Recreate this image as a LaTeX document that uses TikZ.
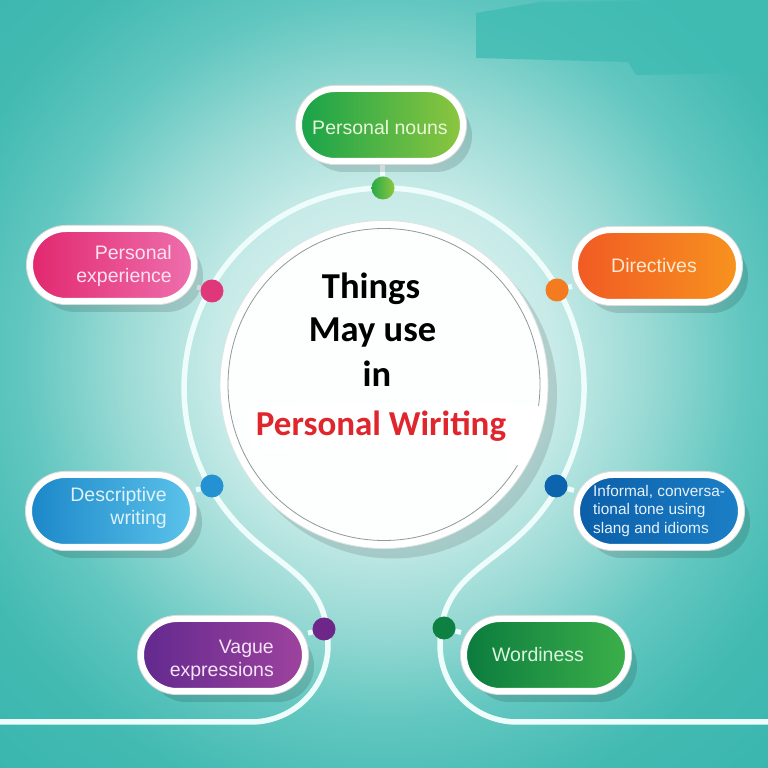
\documentclass[tikz,border=0pt]{standalone}
\usepackage{fontspec}
\setmainfont{Liberation Sans}
\newfontfamily\hubfont{Carlito}
\usetikzlibrary{shadows}
\pgfdeclarelayer{bg}
\pgfsetlayers{bg,main}

\definecolor{bgA}{HTML}{E4F6F5}
\definecolor{bgB}{HTML}{C8EBE8}
\definecolor{bgC}{HTML}{9ADAD5}
\definecolor{bgD}{HTML}{62C7C0}
\definecolor{bgE}{HTML}{42BAB2}
\definecolor{bgF}{HTML}{36B4AC}
\definecolor{smudge}{HTML}{40BCB3}
\definecolor{trackc}{HTML}{EEFCFC}
\definecolor{hubin}{HTML}{FDFEFE}
\definecolor{hubedge}{HTML}{DCE4E4}
\definecolor{hubline}{HTML}{8E9A9A}
\definecolor{redtxt}{HTML}{E0262D}

\definecolor{pnL}{HTML}{17A34A}\definecolor{pnR}{HTML}{8DC63F}\definecolor{pnT}{HTML}{E9F7D9}\definecolor{pnD}{HTML}{2AAA48}
\definecolor{peL}{HTML}{E2286E}\definecolor{peR}{HTML}{EE6FAE}\definecolor{peT}{HTML}{FDE3EF}\definecolor{peD}{HTML}{E0367A}
\definecolor{drL}{HTML}{F15A24}\definecolor{drR}{HTML}{F7931E}\definecolor{drT}{HTML}{FFE9CF}\definecolor{drD}{HTML}{F47B20}
\definecolor{dwL}{HTML}{1B87C9}\definecolor{dwR}{HTML}{5CC3EA}\definecolor{dwT}{HTML}{DEF2FB}\definecolor{dwD}{HTML}{2491D2}
\definecolor{inL}{HTML}{0B5EA8}\definecolor{inR}{HTML}{1C80C7}\definecolor{inT}{HTML}{E6F1FB}\definecolor{inD}{HTML}{0C64AE}
\definecolor{veL}{HTML}{62298F}\definecolor{veR}{HTML}{9E439E}\definecolor{veT}{HTML}{F5E3F7}\definecolor{veD}{HTML}{6E2689}
\definecolor{wdL}{HTML}{0B7B3E}\definecolor{wdR}{HTML}{3CB04A}\definecolor{wdT}{HTML}{DCF5DF}\definecolor{wdD}{HTML}{0D8042}

\pgfdeclareradialshading{bgshade}{\pgfpoint{0bp}{0bp}}{color(0bp)=(bgA); color(7bp)=(bgB); color(11bp)=(bgC); color(15bp)=(bgD); color(19bp)=(bgE); color(26bp)=(bgF); color(50bp)=(bgF)}

\tikzset{
  pill/.style={rectangle, rounded corners=36pt, minimum width=164pt, minimum height=72pt,
    inner sep=0pt, draw=white, line width=6pt,
    drop shadow={shadow xshift=9pt, shadow yshift=-11pt, opacity=0.13, fill=black},
    preaction={draw=black!14, line width=8pt}},
  lbl/.style={inner sep=0pt, font=\fontsize{19.5}{23}\selectfont},
  small/.style={inner sep=0pt, font=\fontsize{15.4}{18}\selectfont},
  hubt/.style={inner sep=0pt, font=\hubfont\bfseries\fontsize{36.5}{40}\selectfont, text=black},
  dot/.style={circle, minimum size=23pt, inner sep=0pt},
  track/.style={draw=trackc, line width=5.5pt},
  stub/.style={draw=trackc, line width=5pt},
  hubc/.style={circle, minimum size=328pt, inner sep=0pt, fill=white, draw=hubedge, line width=0.8pt,
    drop shadow={shadow xshift=9pt, shadow yshift=-10pt, opacity=0.12, fill=black}}
}

\begin{document}
\begin{tikzpicture}[x=1pt,y=1pt]
\useasboundingbox (0,0) rectangle (768,768);

% central disc
\node[hubc] (hub) at (384,383.5) {};
\fill[hubin] (hub.center) circle[radius=156pt];
\draw[hubline, line width=0.8pt] (hub.center) circle[radius=156pt];
\fill[white] (505,362) -- (545,362) -- (538,330) -- (522,302) -- (508,304) -- cycle;
\fill[white, rounded corners=10pt] (246,362) -- (515,366) -- (526,320) -- (252,318) -- cycle;

\node[hubt, anchor=base] (t1) at (371,469) {Things};
\node[hubt, anchor=base] (t2) at (372.5,426) {May use};
\node[hubt, anchor=base] (t3) at (377,381) {in};
\node[hubt, anchor=base, text=redtxt, font=\hubfont\bfseries\fontsize{35}{40}\selectfont] (t4) at (381,332) {Personal Wiriting};

% boxes
\node[pill, left color=pnL, right color=pnR] (pn) at (381,643) {};
\node[lbl, text=pnT, anchor=base] (pnt) at (380,633) {Personal nouns};

\node[pill, left color=peL, right color=peR] (pe) at (112,503) {};
\node[lbl, text=peT, anchor=base east] (pe1) at (172,508) {Personal};
\node[lbl, text=peT, anchor=base east] (pe2) at (172,485) {experience};

\node[pill, left color=drL, right color=drR] (dr) at (657,502) {};
\node[lbl, text=drT, anchor=base] (drt) at (654,495) {Directives};

\node[pill, left color=dwL, right color=dwR] (dw) at (111,257) {};
\node[lbl, text=dwT, anchor=base east] (dw1) at (167,266) {Descriptive};
\node[lbl, text=dwT, anchor=base east] (dw2) at (167,243) {writing};

\node[pill, left color=inL, right color=inR] (inf) at (659,257) {};
\node[small, text=inT, anchor=base west] (in1) at (593,271.3) {Informal, conversa-};
\node[small, text=inT, anchor=base west] (in2) at (593,253) {tional tone using};
\node[small, text=inT, anchor=base west] (in3) at (593,234.7) {slang and idioms};

\node[pill, left color=veL, right color=veR] (ve) at (223,113) {};
\node[lbl, text=veT, anchor=base east] (ve1) at (274,114.7) {Vague};
\node[lbl, text=veT, anchor=base east] (ve2) at (274,91.3) {expressions};

\node[pill, left color=wdL, right color=wdR] (wd) at (546,113) {};
\node[lbl, text=wdT, anchor=base] (wdt) at (538,106.3) {Wordiness};

% dots
\node[dot, left color=pnD, right color=pnR] (dpn) at (383,580) {};
\node[dot, fill=peD] (dpe) at (212,477) {};
\node[dot, fill=drD] (ddr) at (557,478) {};
\node[dot, fill=dwD] (ddw) at (212,282) {};
\node[dot, fill=inD] (din) at (556,282) {};
\node[dot, fill=veD] (dve) at (324,139) {};
\node[dot, fill=wdD] (dwd) at (444,140) {};

\begin{pgfonlayer}{bg}
  \begin{scope}
    \clip (0,0) rectangle (768,768);
    \shade[shading=bgshade] (384,408) circle[radius=600pt];
    \fill[smudge, opacity=0.8] (476,755) -- (540,766) -- (768,768) -- (768,697) -- (700,694) -- (636,693) -- (628,706) -- (476,710) -- cycle;
  \end{scope}
  \draw[track] (0,46) -- (251,46) arc[start angle=-90, end angle=0, radius=77pt]
    .. controls (328,193) and (275,200) .. (233.6,248.2)
    arc[start angle=221.2, end angle=-41.2, radius=200pt]
    .. controls (493,200) and (440,193) .. (440,123)
    arc[start angle=180, end angle=270, radius=77pt] -- (768,46);
  \draw[stub] (dpn) -- (pn);
  \draw[stub] (dpe) -- (pe);
  \draw[stub] (ddr) -- (dr);
  \draw[stub] (ddw) -- (dw);
  \draw[stub] (din) -- (inf);
  \draw[stub] (dve) -- (ve);
  \draw[stub] (dwd) -- (wd);
\end{pgfonlayer}
\end{tikzpicture}
\end{document}
